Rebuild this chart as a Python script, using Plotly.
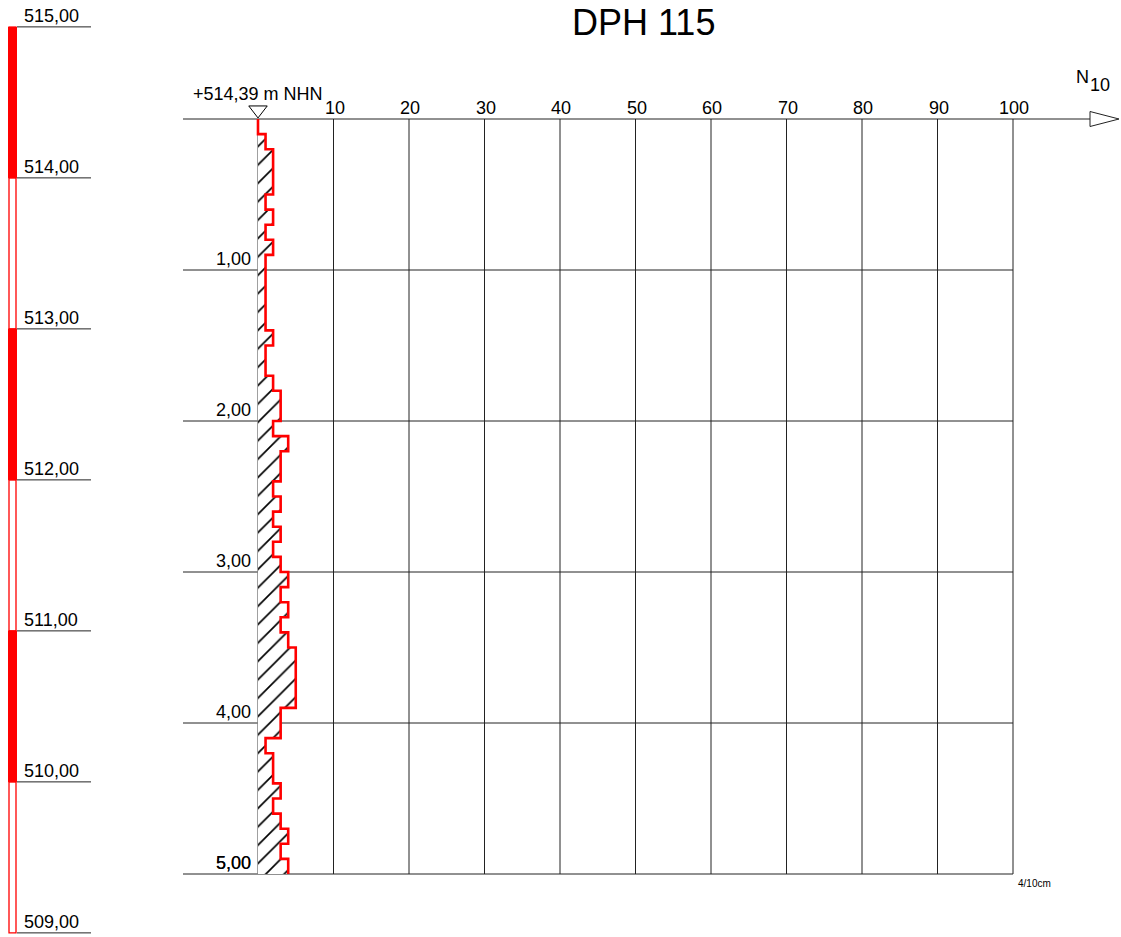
import plotly.graph_objects as go

# ---------------- data ----------------
title_text = "DPH 115"
surface_label = "+514,39 m NHN"
surface_elev = 514.39
depth_step = 0.1
n10_values = [0, 1, 2, 2, 2, 1, 2, 1, 2, 1,
              1, 1, 1, 1, 2, 1, 1, 2, 3, 3,
              2, 4, 3, 3, 2, 3, 2, 3, 2, 3,
              4, 3, 4, 3, 4, 5, 5, 5, 5, 3,
              3, 1, 2, 2, 3, 2, 3, 4, 3, 4]
x_ticks = [10, 20, 30, 40, 50, 60, 70, 80, 90, 100]
depth_marks = [1, 2, 3, 4, 5]
depth_labels = ["1,00", "2,00", "3,00", "4,00", "5,00"]
elev_marks = [515, 514, 513, 512, 511, 510, 509]
elev_labels = ["515,00", "514,00", "513,00", "512,00", "511,00", "510,00", "509,00"]
scale_note = "4/10cm"

# ---------------- layout geometry (pixels) ----------------
W, H = 1121, 937
X0, PXN = 258.0, 7.55      # pixel of N=0, pixels per N unit
Y0, PXD = 119.0, 151.0     # pixel of depth 0, pixels per metre
FONT = "Liberation Sans, Arial, sans-serif"


def px(x):
    return x / W


def py(y):
    return 1 - y / H


x_range = [-X0 / PXN, (W - X0) / PXN]
y_range = [(H - Y0) / PXD, -Y0 / PXD]
y2_range = [surface_elev - y_range[0], surface_elev - y_range[1]]

max_depth = depth_marks[-1]
max_n = x_ticks[-1]

# step profile coordinates
xs, ys = [0], [0]
for i, v in enumerate(n10_values):
    d = i * depth_step
    xs += [v, v]
    ys += [d, d + depth_step]

fig = go.Figure()

# hatched area
fig.add_trace(go.Scatter(
    x=xs + [0, 0], y=ys + [max_depth, 0], mode="none", fill="toself",
    fillcolor="white",
    fillpattern=dict(shape="/", size=13, solidity=0.13, fgcolor="black", bgcolor="white",
                     fgopacity=1),
    hoverinfo="skip", showlegend=False))

# red step line
fig.add_trace(go.Scatter(
    x=xs, y=ys, mode="lines", line=dict(color="#ff0000", width=2.6),
    showlegend=False, hoverinfo="skip"))

# surface marker
fig.add_trace(go.Scatter(
    x=[0], y=[-0.06], mode="markers",
    marker=dict(symbol="triangle-down-open", size=16, color="black", line=dict(width=1)),
    showlegend=False, hoverinfo="skip"))

# dummy trace on elevation axis
fig.add_trace(go.Scatter(x=[None], y=[None], yaxis="y2", showlegend=False))

shapes = []
# vertical grid lines
for t in x_ticks:
    shapes.append(dict(type="line", xref="x", yref="y", x0=t, x1=t, y0=0, y1=max_depth,
                       line=dict(color="#222", width=1), layer="below"))
# baseline N=0
shapes.append(dict(type="line", xref="x", yref="y", x0=0, x1=0, y0=0, y1=max_depth,
                   line=dict(color="#808080", width=1.5), layer="below"))
# depth lines
for d in depth_marks:
    shapes.append(dict(type="line", xref="paper", yref="y", x0=px(183), x1=px(X0 + max_n * PXN),
                       y0=d, y1=d, line=dict(color="#222", width=1), layer="below"))
# top axis line + arrow
shapes.append(dict(type="line", xref="paper", yref="y", x0=px(183), x1=px(1090), y0=0, y1=0,
                   line=dict(color="#222", width=1), layer="below"))
shapes.append(dict(type="path", xref="paper", yref="paper",
                   path=f"M {px(1090)},{py(111.5)} L {px(1119)},{py(119)} L {px(1090)},{py(126.5)} Z",
                   line=dict(color="#222", width=1), fillcolor="white"))

# left elevation column
for i in range(len(elev_marks) - 1):
    top, bot = elev_marks[i], elev_marks[i + 1]
    if i % 2 == 0:
        shapes.append(dict(type="rect", xref="paper", yref="y2", x0=px(8.5), x1=px(16.5),
                           y0=bot, y1=top, fillcolor="#ff0000", line=dict(color="#ff0000", width=1)))
    else:
        shapes.append(dict(type="rect", xref="paper", yref="y2", x0=px(9), x1=px(16),
                           y0=bot, y1=top, fillcolor="rgba(0,0,0,0)", line=dict(color="#ff0000", width=1.3)))
for e in elev_marks:
    shapes.append(dict(type="line", xref="paper", yref="y2", x0=px(17), x1=px(91), y0=e, y1=e,
                       line=dict(color="#222", width=1)))

annotations = []
tf = dict(family=FONT, size=18, color="black")
for e, lab in zip(elev_marks, elev_labels):
    annotations.append(dict(text=lab, xref="paper", yref="y2", x=px(22), y=e,
                            xanchor="left", yanchor="bottom", showarrow=False, font=tf, yshift=-1))
for t in x_ticks:
    annotations.append(dict(text=str(t), xref="x", yref="y", x=t, y=0,
                            xanchor="center", yanchor="bottom", showarrow=False, font=tf,
                            xshift=1, yshift=-1))
for d, lab in zip(depth_marks, depth_labels):
    annotations.append(dict(text=lab, xref="paper", yref="y", x=px(253), y=d,
                            xanchor="right", yanchor="bottom", showarrow=False, font=tf, yshift=-1))
annotations.append(dict(text=depth_labels[-1], xref="paper", yref="y", x=px(253), y=depth_marks[-1],
                        xanchor="right", yanchor="bottom", showarrow=False, font=tf, yshift=-1))
annotations.append(dict(text=surface_label, xref="paper", yref="y", x=px(258), y=0,
                        xanchor="center", yanchor="bottom", yshift=13, showarrow=False, font=tf))
annotations.append(dict(text=title_text, xref="paper", yref="paper", x=px(643), y=py(22),
                        xanchor="center", yanchor="middle", showarrow=False,
                        font=dict(family=FONT, size=36, color="black")))
annotations.append(dict(text="N", xref="paper", yref="paper", x=px(1074), y=py(77),
                        xanchor="left", yanchor="middle", showarrow=False, font=tf))
annotations.append(dict(text="10", xref="paper", yref="paper", x=px(1088), y=py(85),
                        xanchor="left", yanchor="middle", showarrow=False, font=tf))
annotations.append(dict(text=scale_note, xref="paper", yref="y", x=px(1016), y=max_depth,
                        xanchor="left", yanchor="top", yshift=-2, showarrow=False,
                        font=dict(family=FONT, size=10, color="black")))

fig.update_layout(
    width=W, height=H, margin=dict(l=0, r=0, t=0, b=0, pad=0),
    paper_bgcolor="white", plot_bgcolor="white",
    xaxis=dict(range=x_range, visible=False, domain=[0, 1], fixedrange=True),
    yaxis=dict(range=y_range, visible=False, domain=[0, 1], fixedrange=True),
    yaxis2=dict(range=y2_range, visible=False, overlaying="y", fixedrange=True),
    shapes=shapes, annotations=annotations, showlegend=False,
    font=dict(family=FONT, color="black"),
)

fig.write_html("out.html", post_script="document.body.style.margin='0';",
               config={"displayModeBar": False})
